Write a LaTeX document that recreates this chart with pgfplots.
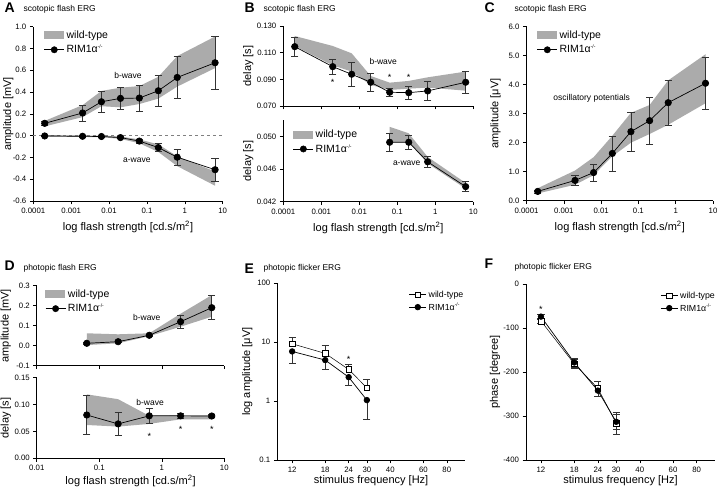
\documentclass[border=0pt]{standalone}
\usepackage{fontspec}
\setmainfont{Liberation Sans}
\usepackage{pgfplots}
\pgfplotsset{compat=1.18}
\newcommand{\rim}{RIM1α\textsuperscript{\fontsize{5}{5}\selectfont -/-}}
\pgfplotsset{
  erg/.style={
    scale only axis, axis lines*=left, tick align=outside,
    axis line style={black, line width=0.6pt},
    tick style={black, line width=0.6pt},
    major tick length=3.5pt,
    xminorticks=false, yminorticks=false,
    scaled y ticks=false, scaled x ticks=false,
    tick label style={font=\fontsize{7.8}{8}\selectfont},
    label style={font=\fontsize{11}{12}\selectfont},
    ylabel style={at={(axis description cs:0,0.5)}, anchor=center},
    xlabel style={at={(axis description cs:0.5,0)}, anchor=center},
    clip=false,
    legend cell align=left,
  },
  wt/.style={fill=black!33, draw=none, forget plot},
  rim/.style={black, line width=0.7pt, mark=*, mark size=3.2pt, mark options={fill=black}, forget plot,
    error bars/y dir=both, error bars/y explicit, error bars/error bar style={black!80, line width=0.6pt},
    error bars/error mark options={rotate=90, mark size=3.6pt, black!80, line width=0.6pt}},
}
\tikzset{
  ann/.style={font=\fontsize{8.5}{9}\selectfont},
  star/.style={font=\fontsize{9}{9}\selectfont},
}
\newcommand{\legwt}{\addlegendimage{legend image code/.code={\fill[black!33] (0pt,-3.5pt) rectangle (19pt,3.5pt);}}\addlegendentry{wild-type}}
\newcommand{\legrim}{\addlegendimage{legend image code/.code={\draw[black,line width=0.7pt] (0pt,0pt)--(20pt,0pt); \fill[black] (10pt,0pt) circle (3.2pt);}}\addlegendentry{\rim}}
\begin{document}
\begin{tikzpicture}
\path[use as bounding box] (0,0) rectangle (720pt,489pt);
% titles
\node[anchor=west,font=\bfseries\fontsize{14}{14}\selectfont] at (1pt,481pt) {A};
\node[anchor=west,font=\fontsize{8.5}{9}\selectfont] at (20pt,480pt) {scotopic flash ERG};
\node[anchor=west,font=\bfseries\fontsize{14}{14}\selectfont] at (241pt,481pt) {B};
\node[anchor=west,font=\fontsize{8.5}{9}\selectfont] at (260pt,480pt) {scotopic flash ERG};
\node[anchor=west,font=\bfseries\fontsize{14}{14}\selectfont] at (481pt,481pt) {C};
\node[anchor=west,font=\fontsize{8.5}{9}\selectfont] at (511pt,480pt) {scotopic flash ERG};
\node[anchor=west,font=\bfseries\fontsize{14}{14}\selectfont] at (1pt,223pt) {D};
\node[anchor=west,font=\fontsize{8.5}{9}\selectfont] at (20pt,221pt) {photopic flash ERG};
\node[anchor=west,font=\bfseries\fontsize{14}{14}\selectfont] at (241pt,220pt) {E};
\node[anchor=west,font=\fontsize{8.5}{9}\selectfont] at (260pt,221pt) {photopic flicker ERG};
\node[anchor=west,font=\bfseries\fontsize{14}{14}\selectfont] at (481pt,225pt) {F};
\node[anchor=west,font=\fontsize{8.5}{9}\selectfont] at (511pt,222pt) {photopic flicker ERG};

% ---------- A ----------
\begin{axis}[erg, xmode=log, xmin=0.0001, xmax=10,
  xtick={0.0001,0.001,0.01,0.1,1,10}, xticklabels={0.0001,0.001,0.01,0.1,1,10},
  at={(33.3pt,288pt)}, anchor=south west, width=189.4pt, height=174.3pt,
  ymin=-0.6, ymax=1.0, ytick={-0.6,-0.4,-0.2,0,0.2,0.4,0.6,0.8,1.0},
  yticklabels={-0.6,-0.4,-0.2,0.0,0.2,0.4,0.6,0.8,1.0},
  ylabel={amplitude [mV]}, ylabel style={yshift=25pt},
  xlabel={log flash strength [cd.s/m\textsuperscript{2}]}, xlabel style={yshift=-26pt},
  legend style={draw=none, fill=none, inner sep=0pt, font=\fontsize{10.5}{11}\selectfont, row sep=1.5pt,
    at={(rel axis cs:0.055,0.99)}, anchor=north west}]
\legwt \legrim
\addplot[wt] coordinates {(0.0002,0.135)(0.002,0.28)(0.0063,0.41)(0.02,0.44)(0.063,0.455)(0.2,0.54)(0.63,0.73)(6.3,0.91)
 (6.3,0.62)(0.63,0.45)(0.2,0.34)(0.063,0.29)(0.02,0.26)(0.0063,0.27)(0.002,0.17)(0.0002,0.085)} --cycle;
\addplot[wt] coordinates {(0.0002,0.004)(0.002,0.002)(0.0063,0.0)(0.02,-0.008)(0.063,-0.035)(0.2,-0.08)(0.63,-0.19)(6.3,-0.33)
 (6.3,-0.46)(0.63,-0.28)(0.2,-0.15)(0.063,-0.07)(0.02,-0.03)(0.0063,-0.014)(0.002,-0.012)(0.0002,-0.01)} --cycle;
\addplot[gray, dashed, line width=0.5pt, forget plot] coordinates {(0.0001,0)(10,0)};
\addplot[rim] coordinates {(0.0002,0.113)+-(0,0.018) (0.002,0.208)+-(0,0.072) (0.0063,0.311)+-(0,0.10) (0.02,0.342)+-(0,0.10)
 (0.063,0.345)+-(0,0.12) (0.2,0.412)+-(0,0.142) (0.63,0.534)+-(0,0.19) (6.3,0.669)+-(0,0.24)};
\addplot[rim] coordinates {(0.0002,-0.003)+-(0,0.005) (0.002,-0.006)+-(0,0.005) (0.0063,-0.008)+-(0,0.006) (0.02,-0.018)+-(0,0.008)
 (0.063,-0.05)+-(0,0.018) (0.2,-0.11)+-(0,0.036) (0.63,-0.198)+-(0,0.07) (6.3,-0.313)+-(0,0.107)};
\node[ann] at (axis cs:0.0316,0.55) {b-wave};
\node[ann] at (axis cs:0.054,-0.23) {a-wave};
\end{axis}

% ---------- B top ----------
\begin{axis}[erg, xmode=log, xmin=0.0001, xmax=10,
  xtick={0.0001,0.001,0.01,0.1,1,10}, xticklabels={},
  at={(283.3pt,383pt)}, anchor=south west, width=190pt, height=80pt,
  ymin=0.07, ymax=0.13, ytick={0.07,0.09,0.11,0.13}, yticklabels={0.070,0.090,0.110,0.130},
  ylabel={delay [s]}, ylabel style={yshift=35pt}]
\addplot[wt] coordinates {(0.0002,0.1225)(0.002,0.115)(0.0063,0.1095)(0.02,0.0925)(0.063,0.0875)(0.2,0.0888)(0.63,0.0915)(6.3,0.0958)
 (6.3,0.0815)(0.63,0.0838)(0.2,0.083)(0.063,0.082)(0.02,0.0858)(0.0063,0.0958)(0.002,0.1005)(0.0002,0.115)} --cycle;
\addplot[rim] coordinates {(0.0002,0.1145)+-(0,0.007) (0.002,0.0995)+-(0,0.0055) (0.0063,0.0938)+-(0,0.0087) (0.02,0.0878)+-(0,0.0065)
 (0.063,0.0803)+-(0,0.003) (0.2,0.080)+-(0,0.005) (0.63,0.0813)+-(0,0.007) (6.3,0.0878)+-(0,0.008)};
\node[ann] at (axis cs:0.0427,0.1032) {b-wave};
\node[star] at (axis cs:0.002,0.0875) {*};
\node[star] at (axis cs:0.063,0.0912) {*};
\node[star] at (axis cs:0.2,0.0917) {*};
\end{axis}

% ---------- B bottom ----------
\begin{axis}[erg, xmode=log, xmin=0.0001, xmax=10,
  xtick={0.0001,0.001,0.01,0.1,1,10}, xticklabels={0.0001,0.001,0.01,0.1,1,10},
  at={(283.3pt,287.3pt)}, anchor=south west, width=190pt, height=81.4pt,
  ymin=0.042, ymax=0.052, ytick={0.042,0.046,0.050}, yticklabels={0.042,0.046,0.050},
  ylabel={delay [s]}, ylabel style={yshift=35pt},
  xlabel={log flash strength [cd.s/m\textsuperscript{2}]}, xlabel style={yshift=-26pt},
  legend style={draw=none, fill=none, inner sep=0pt, font=\fontsize{10.5}{11}\selectfont, row sep=1.5pt,
    at={(rel axis cs:0.05,0.91)}, anchor=north west}]
\legwt \legrim
\addplot[wt] coordinates {(0.063,0.0512)(0.2,0.0504)(0.63,0.0475)(6.3,0.0443)
 (6.3,0.0436)(0.63,0.0467)(0.2,0.0493)(0.063,0.0493)} --cycle;
\addplot[rim] coordinates {(0.063,0.0493)+-(0,0.0011) (0.2,0.0493)+-(0,0.00085) (0.63,0.0469)+-(0,0.00065) (6.3,0.04385)+-(0,0.0006)};
\node[ann] at (axis cs:0.177,0.0467) {a-wave};
\end{axis}

% ---------- C ----------
\begin{axis}[erg, xmode=log, xmin=0.0001, xmax=10,
  xtick={0.0001,0.001,0.01,0.1,1,10}, xticklabels={0.0001,0.001,0.01,0.1,1,10},
  at={(526.5pt,288.3pt)}, anchor=south west, width=186.5pt, height=174pt,
  ymin=0, ymax=6, ytick={0,1,2,3,4,5,6}, yticklabels={0.0,1.0,2.0,3.0,4.0,5.0,6.0},
  ylabel={amplitude [μV]}, ylabel style={yshift=31pt},
  xlabel={log flash strength [cd.s/m\textsuperscript{2}]}, xlabel style={yshift=-26pt},
  legend style={draw=none, fill=none, inner sep=0pt, font=\fontsize{10.5}{11}\selectfont, row sep=1.5pt,
    at={(rel axis cs:0.055,0.99)}, anchor=north west}]
\legwt \legrim
\addplot[wt] coordinates {(0.0002,0.43)(0.002,1.04)(0.0063,1.5)(0.02,2.24)(0.063,3.03)(0.2,3.3)(0.63,4.15)(6.3,5.05)
 (6.3,3.36)(0.63,2.62)(0.2,2.3)(0.063,2.0)(0.02,1.53)(0.0063,0.88)(0.002,0.55)(0.0002,0.25)} --cycle;
\addplot[rim] coordinates {(0.0002,0.32)+-(0,0.05) (0.002,0.70)+-(0,0.18) (0.0063,0.97)+-(0,0.29) (0.02,1.63)+-(0,0.6)
 (0.063,2.38)+-(0,0.66) (0.2,2.76)+-(0,0.8) (0.63,3.38)+-(0,0.78) (6.3,4.05)+-(0,0.9)};
\node[ann] at (axis cs:0.0056,3.53) {oscillatory potentials};
\end{axis}

% ---------- D top ----------
\begin{axis}[erg, xmode=log, xmin=0.01, xmax=10, xtick={0.01,0.1,1,10}, xticklabels={},
  at={(36.8pt,123.3pt)}, anchor=south west, width=187.5pt, height=80pt,
  ymin=-0.1, ymax=0.3, ytick={-0.1,0,0.1,0.2,0.3}, yticklabels={-0.1,0.0,0.1,0.2,0.3},
  ylabel={amplitude [mV]}, ylabel style={yshift=31pt},
  legend style={draw=none, fill=none, inner sep=0pt, font=\fontsize{10.5}{11}\selectfont, row sep=1.5pt,
    at={(rel axis cs:0.044,0.98)}, anchor=north west}]
\legwt \legrim
\addplot[wt] coordinates {(0.063,0.062)(0.2,0.057)(0.63,0.062)(2,0.16)(6.3,0.253)
 (6.3,0.145)(2,0.095)(0.63,0.048)(0.2,0.012)(0.063,0.003)} --cycle;
\addplot[rim] coordinates {(0.063,0.012)+-(0,0.005) (0.2,0.02)+-(0,0.005) (0.63,0.052)+-(0,0.006) (2,0.12)+-(0,0.032) (6.3,0.19)+-(0,0.06)};
\node[ann] at (axis cs:0.575,0.14) {b-wave};
\end{axis}

% ---------- D bottom ----------
\begin{axis}[erg, xmode=log, xmin=0.01, xmax=10, xtick={0.01,0.1,1,10}, xticklabels={0.01,0.1,1,10},
  at={(36.8pt,30.7pt)}, anchor=south west, width=187.5pt, height=80.6pt,
  ymin=0, ymax=0.15, ytick={0,0.05,0.1,0.15}, yticklabels={0.00,0.05,0.10,0.15},
  ylabel={delay [s]}, ylabel style={yshift=31pt},
  xlabel={log flash strength [cd.s/m\textsuperscript{2}]}, xlabel style={yshift=-23pt}]
\addplot[wt] coordinates {(0.063,0.119)(0.2,0.11)(0.63,0.079)(2,0.08)(6.3,0.08)
 (6.3,0.0725)(2,0.0725)(0.63,0.064)(0.2,0.059)(0.063,0.062)} --cycle;
\addplot[rim] coordinates {(0.063,0.0806)+-(0,0.036) (0.2,0.064)+-(0,0.022) (0.63,0.079)+-(0,0.014) (2,0.079)+-(0,0.005) (6.3,0.0787)+-(0,0.003)};
\node[ann] at (axis cs:0.65,0.104) {b-wave};
\node[star] at (axis cs:0.63,0.041) {*};
\node[star] at (axis cs:2,0.053) {*};
\node[star] at (axis cs:6.3,0.053) {*};
\end{axis}

% ---------- E ----------
\begin{axis}[erg, xmode=log, ymode=log, xmin=10, xmax=100, ymin=0.1, ymax=100,
  xtick={12,18,24,30,40,60,80}, xticklabels={12,18,24,30,40,60,80},
  ytick={0.1,1,10,100}, yticklabels={0.1,1,10,100},
  at={(277.3pt,29pt)}, anchor=south west, width=187.7pt, height=176.7pt,
  ylabel={log amplitude [μV]}, ylabel style={yshift=30pt},
  xlabel={stimulus frequency [Hz]}, xlabel style={yshift=-21pt},
  legend style={draw=none, fill=none, inner sep=0pt, font=\fontsize{8.8}{9}\selectfont, row sep=0pt,
   at={(rel axis cs:0.7,0.97)}, anchor=north west}]
\addlegendimage{black, line width=0.5pt, mark=square*, mark options={fill=white}, mark size=2.8pt}
\addlegendentry{wild-type}
\addlegendimage{black, line width=0.7pt, mark=*, mark size=2.8pt}
\addlegendentry{\rim}
\addplot[black, line width=0.5pt, mark=square*, mark size=2.8pt, mark options={fill=white}, forget plot,
  error bars/y dir=plus, error bars/y explicit, error bars/error bar style={black!80, line width=0.6pt},
  error bars/error mark options={rotate=90, mark size=3.6pt, black!80, line width=0.6pt}]
  coordinates {(12,9.4)+-(0,2.9) (18,6.45)+-(0,2.55) (24,3.45)+-(0,0.75) (30,1.68)+-(0,0.65)};
\addplot[black, line width=0.7pt, mark=*, mark size=2.8pt, forget plot,
  error bars/y dir=minus, error bars/y explicit, error bars/error bar style={black!80, line width=0.6pt},
  error bars/error mark options={rotate=90, mark size=3.6pt, black!80, line width=0.6pt}]
  coordinates {(12,6.97)+-(0,2.67) (18,4.97)+-(0,1.52) (24,2.55)+-(0,0.68) (30,1.04)+-(0,0.54)};
\node[star] at (axis cs:24,5.2) {*};
\end{axis}

% ---------- F ----------
\begin{axis}[erg, xmode=log, xmin=10, xmax=100, ymin=-400, ymax=0,
  xtick={12,18,24,30,40,60,80}, xticklabels={12,18,24,30,40,60,80},
  ytick={-400,-300,-200,-100,0}, yticklabels={-400,-300,-200,-100,0},
  at={(526pt,29pt)}, anchor=south west, width=189pt, height=175.7pt,
  ylabel={phase [degree]}, ylabel style={yshift=31pt},
  xlabel={stimulus frequency [Hz]}, xlabel style={yshift=-21pt},
  legend style={draw=none, fill=none, inner sep=0pt, font=\fontsize{8.8}{9}\selectfont, row sep=0pt,
   at={(rel axis cs:0.71,0.97)}, anchor=north west}]
\addlegendimage{black, line width=0.5pt, mark=square*, mark options={fill=white}, mark size=2.8pt}
\addlegendentry{wild-type}
\addlegendimage{black, line width=0.7pt, mark=*, mark size=2.8pt}
\addlegendentry{\rim}
\addplot[black, line width=0.5pt, mark=square*, mark size=2.8pt, mark options={fill=white}, forget plot,
  error bars/y dir=both, error bars/y explicit, error bars/error bar style={black!80, line width=0.6pt},
  error bars/error mark options={rotate=90, mark size=3.6pt, black!80, line width=0.6pt}]
  coordinates {(12,-83.5)+-(0,6) (18,-181)+-(0,10) (24,-237)+-(0,17) (30,-316)+-(0,25)};
\addplot[black, line width=0.7pt, mark=*, mark size=2.8pt, forget plot,
  error bars/y dir=both, error bars/y explicit, error bars/error bar style={black!80, line width=0.6pt},
  error bars/error mark options={rotate=90, mark size=3.6pt, black!80, line width=0.6pt}]
  coordinates {(12,-73.6)+-(0,6) (18,-178)+-(0,10) (24,-242)+-(0,12) (30,-313)+-(0,16)};
\node[star] at (axis cs:12,-57) {*};
\end{axis}
\end{tikzpicture}
\end{document}
